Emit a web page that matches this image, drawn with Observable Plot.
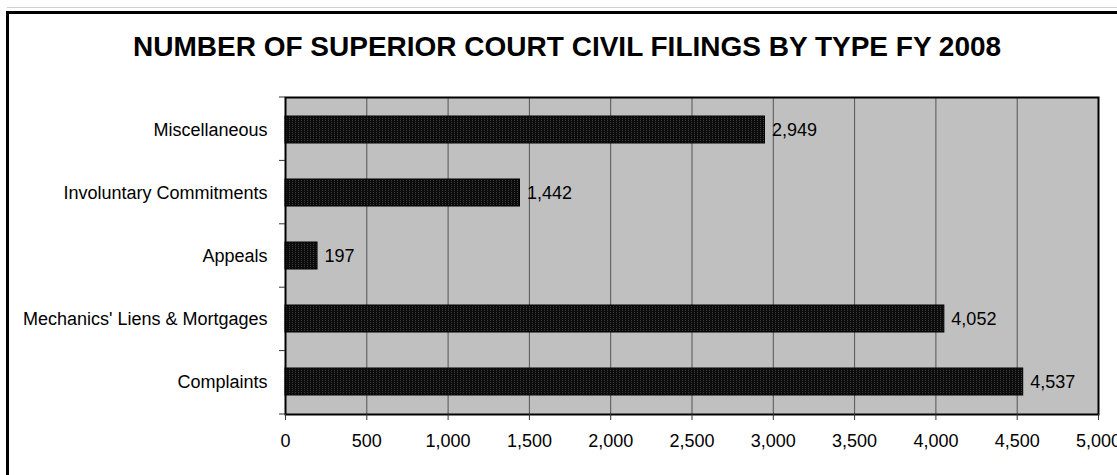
<!DOCTYPE html>
<html>
<head>
<meta charset="utf-8">
<script src="https://cdn.jsdelivr.net/npm/d3@7"></script>
<script src="https://cdn.jsdelivr.net/npm/@observablehq/plot@0.6"></script>
<style>
  html, body { margin: 0; padding: 0; background: #fff; overflow: hidden; }
  #wrap { position: relative; width: 1117px; height: 475px; overflow: hidden; font-family: "Liberation Sans", Arial, sans-serif; }
  #grayline { position: absolute; left: 7px; top: 7px; width: 1200px; height: 1px; background: #cfcfcf; }
  #outer { position: absolute; left: 6px; top: 11px; width: 2000px; height: 1000px; border-left: 3px solid #000; border-top: 3px solid #000; }
  #title { position: absolute; left: 133px; top: 33px; font-size: 28px; line-height: 27px; font-weight: bold; white-space: nowrap; color: #000; }
  #chart { position: absolute; left: 0; top: 0; }
</style>
</head>
<body>
<div id="wrap">
  <div id="grayline"></div>
  <div id="outer"></div>
  <div id="chart"></div>
  <div id="title">NUMBER OF SUPERIOR COURT CIVIL FILINGS BY TYPE FY 2008</div>
</div>
<script>
const categories = ["Miscellaneous", "Involuntary Commitments", "Appeals", "Mechanics' Liens & Mortgages", "Complaints"];
const filings = [2949, 1442, 197, 4052, 4537];
const xTicks = [0, 500, 1000, 1500, 2000, 2500, 3000, 3500, 4000, 4500, 5000];

const data = categories.map((c, i) => ({category: c, value: filings[i]}));
const fmt = d3.format(",");

const boundaryTicks = (index, scales, values, dims) => {
  const g = d3.create("svg:g");
  const n = categories.length;
  const top = dims.marginTop;
  const h = dims.height - dims.marginTop - dims.marginBottom;
  for (let i = 0; i <= n; i++) {
    const y = top + i * h / n;
    g.append("line")
      .attr("x1", dims.marginLeft - 6).attr("x2", dims.marginLeft)
      .attr("y1", y).attr("y2", y)
      .attr("stroke", "#333").attr("stroke-width", 1);
  }
  return g.node();
};

const plot = Plot.plot({
  width: 1117,
  height: 475,
  marginLeft: 285,
  marginRight: 19,
  marginTop: 97,
  marginBottom: 61,
  style: {fontFamily: "'Liberation Sans', Arial, sans-serif", fontSize: "18px", color: "#000", background: "transparent", overflow: "visible"},
  x: {domain: [0, 5000]},
  y: {domain: categories, paddingInner: 0.57, paddingOuter: 0.285},
  marks: [
    Plot.frame({fill: "#c0c0c0", stroke: "none"}),
    Plot.gridX(xTicks, {stroke: "#555", strokeOpacity: 1, strokeWidth: 1}),
    Plot.barX(data, {x: "value", y: "category", fill: "url(#dots)", stroke: "#000", strokeWidth: 1}),
    Plot.text(data, {x: "value", y: "category", text: d => fmt(d.value), textAnchor: "start", dx: 7, fontSize: 18, fill: "#000"}),
    Plot.frame({stroke: "#000", strokeWidth: 2}),
    Plot.axisX({ticks: xTicks, tickFormat: fmt, tickSize: 6, tickPadding: 14, stroke: "#333", fontSize: 18, label: null}),
    Plot.axisY({tickSize: 0, tickPadding: 18, fontSize: 18, label: null}),
    boundaryTicks
  ]
});

const defs = d3.select(plot).insert("defs", ":first-child");
const pat = defs.append("pattern").attr("id", "dots").attr("patternUnits", "userSpaceOnUse").attr("width", 3).attr("height", 2);
pat.append("rect").attr("width", 3).attr("height", 2).attr("fill", "#0c0c0c");
pat.append("rect").attr("x", 1).attr("y", 0).attr("width", 1).attr("height", 1).attr("fill", "#3c3c3c");

document.getElementById("chart").appendChild(plot);
</script>
</body>
</html>
